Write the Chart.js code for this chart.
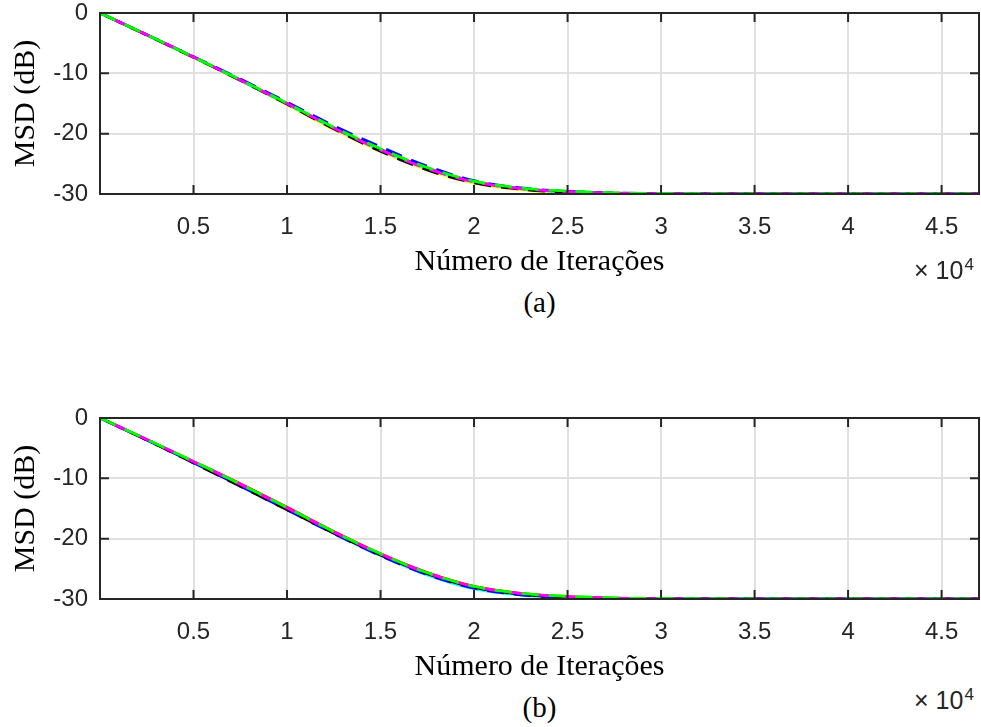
<!DOCTYPE html>
<html>

<head>
    <title>MSD</title>
    <script src="https://cdn.jsdelivr.net/npm/chart.js"></script>
    <style>
        body { margin: 0; background: #fff; }
        #page { position: relative; width: 981px; height: 727px; overflow: hidden; }
        .panel { position: absolute; left: 0; }
        .expo { position: absolute; left: 914px; font: 25px "Liberation Sans", Arial, sans-serif; line-height: 25px; color: #262626; white-space: nowrap; }
        .expo sup { font-size: 17px; vertical-align: 9px; line-height: 0; margin-left: 1px; }
        .cap { position: absolute; left: 0; width: 1079px; text-align: center; font: 29px "Liberation Serif", serif; line-height: 29px; color: #000; }
    </style>
</head>

<body>
    <div id="page">
        <canvas class="panel" id="chartA" width="981" height="280" style="top:0px"></canvas>
        <canvas class="panel" id="chartB" width="981" height="280" style="top:405px"></canvas>
        <div class="expo" style="top:258px">×<span style="margin-left:7px">10</span><sup>4</sup></div>
        <div class="expo" style="top:688px">×<span style="margin-left:7px">10</span><sup>4</sup></div>
        <div class="cap" style="top:288px">(a)</div>
        <div class="cap" style="top:693px">(b)</div>
    </div>
</body>

</html>

<script>
    // iterações (eixo x) e ticks
    const iters = [0, 2500, 5000, 7500, 10000, 12500, 15000, 17500, 20000, 22500, 25000, 27500, 30000, 35000, 40000, 47000];
    const xTicks = [5000, 10000, 15000, 20000, 25000, 30000, 35000, 40000, 45000];
    const yTicks = [0, -10, -20, -30];

    // (a) MSD em dB
    const yellowA = [0, -3.7, -7.4, -11.2, -15.2, -19.3, -22.9, -26.0, -28.2, -29.3, -29.75, -29.9, -29.97, -30, -30, -30];
    const redA = [0, -3.6, -7.3, -11.1, -15.0, -19.0, -22.6, -25.7, -27.9, -29.1, -29.6, -29.85, -29.95, -30, -30, -30];
    const cyanA = [0, -3.65, -7.35, -11.15, -15.1, -19.1, -22.7, -25.8, -28.0, -29.15, -29.65, -29.88, -29.96, -30, -30, -30];
    const blueA = [0, -3.6, -7.25, -10.95, -14.8, -18.7, -22.2, -25.4, -27.8, -29.0, -29.55, -29.83, -29.95, -30, -30, -30];
    const blackA = [0, -3.65, -7.35, -11.15, -15.1, -19.2, -22.9, -26.0, -28.15, -29.2, -29.7, -29.9, -29.97, -30, -30, -30];
    const greenA = [0, -3.6, -7.3, -11.05, -14.95, -18.95, -22.5, -25.6, -27.85, -29.0, -29.5, -29.8, -29.92, -29.97, -29.98, -29.98];
    const magentaA = [0, -3.6, -7.3, -11.1, -15.0, -19.05, -22.7, -25.8, -28.0, -29.1, -29.6, -29.85, -29.95, -30, -30, -30];

    // (b) MSD em dB
    const yellowB = [0, -3.6, -7.3, -11.0, -14.9, -18.9, -22.5, -25.7, -27.9, -29.1, -29.6, -29.85, -29.95, -30, -30, -30];
    const redB = [0, -3.55, -7.2, -10.9, -14.8, -18.8, -22.5, -25.6, -27.9, -29.05, -29.6, -29.85, -29.95, -30, -30, -30];
    const cyanB = [0, -3.6, -7.3, -11.05, -15.0, -19.05, -22.8, -26.0, -28.3, -29.35, -29.8, -29.93, -29.98, -30, -30, -30];
    const blueB = [0, -3.65, -7.4, -11.25, -15.2, -19.15, -22.8, -25.95, -28.2, -29.3, -29.75, -29.9, -29.97, -30, -30, -30];
    const blackB = [0, -3.65, -7.45, -11.3, -15.2, -19.1, -22.7, -25.8, -28.05, -29.2, -29.7, -29.9, -29.97, -30, -30, -30];
    const greenB = [0, -3.55, -7.2, -10.95, -14.85, -18.85, -22.5, -25.65, -27.9, -29.05, -29.55, -29.8, -29.92, -29.97, -29.98, -29.98];
    const magentaB = [0, -3.55, -7.25, -11.0, -14.9, -18.9, -22.55, -25.7, -27.95, -29.1, -29.6, -29.85, -29.95, -30, -30, -30];

    const axisColor = '#262626';

    // caixa estilo MATLAB com ticks para dentro
    const boxPlugin = {
        id: 'boxPlugin',
        afterDatasetsDraw(chart) {
            const { ctx, chartArea: a, scales: { x, y } } = chart;
            const len = 9;
            ctx.save();
            ctx.strokeStyle = axisColor;
            ctx.lineWidth = 2;
            ctx.beginPath();
            x.ticks.forEach(t => {
                const px = x.getPixelForValue(t.value);
                ctx.moveTo(px, a.bottom); ctx.lineTo(px, a.bottom - len);
                ctx.moveTo(px, a.top); ctx.lineTo(px, a.top + len);
            });
            y.ticks.forEach(t => {
                const py = y.getPixelForValue(t.value);
                ctx.moveTo(a.left, py); ctx.lineTo(a.left + len, py);
                ctx.moveTo(a.right, py); ctx.lineTo(a.right - len, py);
            });
            ctx.stroke();
            ctx.strokeRect(a.left, a.top, a.right - a.left, a.bottom - a.top);
            ctx.restore();
        }
    };

    function line(data, color, dashed, offset) {
        return {
            data: iters.map((v, i) => ({ x: v, y: data[i] })),
            borderColor: color,
            borderWidth: 2.8,
            borderDash: dashed ? [17, 10] : [],
            borderDashOffset: offset || 0,
            pointRadius: 0,
            fill: false,
            cubicInterpolationMode: 'monotone'
        };
    }

    function makeChart(id, s) {
        const tickFont = { family: '"Liberation Sans", Arial, sans-serif', size: 24 };
        const titleFont = { family: '"Liberation Serif", serif', size: 30 };
        return new Chart(document.getElementById(id), {
            type: 'line',
            data: {
                // o primeiro conjunto fica por cima no desenho
                datasets: [
                    line(s[5], '#00ff00', true, 0),
                    line(s[6], '#ff00ff', true, 13),
                    line(s[4], '#000000', true, 20),
                    line(s[3], '#0000ff', true, 7),
                    line(s[2], '#00ffff', false),
                    line(s[1], '#ff0000', false),
                    line(s[0], '#ffff00', false)
                ]
            },
            options: {
                responsive: false,
                animation: false,
                layout: { padding: { top: 13, right: 2, left: 0, bottom: 0 } },
                plugins: { legend: { display: false }, tooltip: { enabled: false } },
                scales: {
                    x: {
                        type: 'linear',
                        min: 0,
                        max: 47000,
                        afterBuildTicks: scale => { scale.ticks = xTicks.map(v => ({ value: v })); },
                        afterFit: scale => { scale.height = 86; scale.paddingLeft = 0; scale.paddingRight = 0; },
                        grid: { color: '#e0e0e0', lineWidth: 2, drawTicks: false },
                        border: { display: false },
                        ticks: {
                            font: tickFont,
                            color: axisColor,
                            padding: 19,
                            maxRotation: 0,
                            autoSkip: false,
                            callback: v => String(v / 10000)
                        },
                        title: { display: true, text: 'Número de Iterações', font: titleFont, color: '#000', padding: 0 }
                    },
                    y: {
                        min: -30,
                        max: 0,
                        afterBuildTicks: scale => { scale.ticks = yTicks.map(v => ({ value: v })); },
                        afterFit: scale => { scale.width = 100; scale.paddingTop = 0; scale.paddingBottom = 0; },
                        grid: { color: '#e0e0e0', lineWidth: 2, drawTicks: false },
                        border: { display: false },
                        ticks: { font: tickFont, color: axisColor, padding: 12 },
                        title: { display: true, text: 'MSD (dB)', font: titleFont, color: '#000', padding: { top: 8, bottom: 0 } }
                    }
                }
            },
            plugins: [boxPlugin]
        });
    }

    makeChart('chartA', [yellowA, redA, cyanA, blueA, blackA, greenA, magentaA]);
    makeChart('chartB', [yellowB, redB, cyanB, blueB, blackB, greenB, magentaB]);
</script>
